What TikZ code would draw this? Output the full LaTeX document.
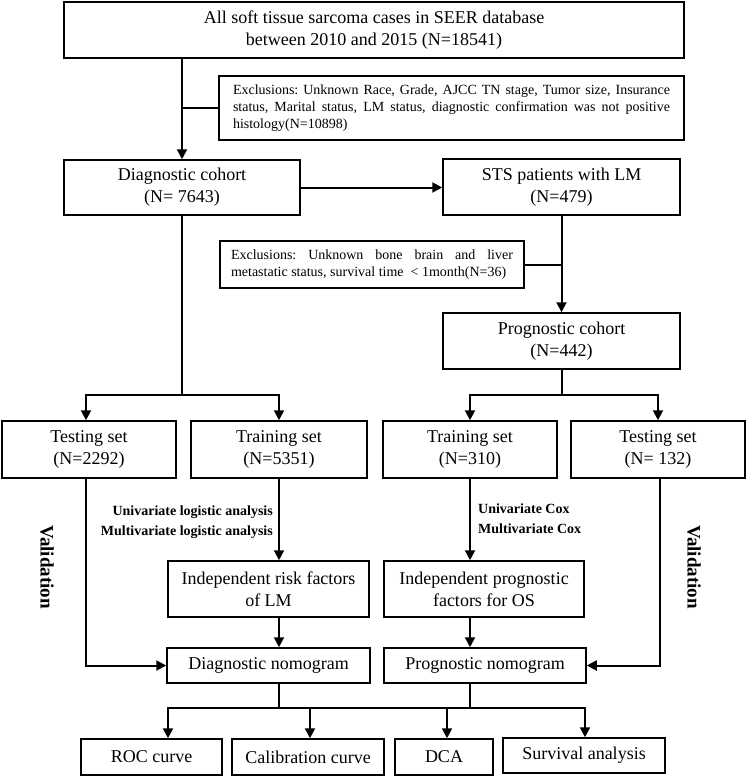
\documentclass[tikz,border=0pt]{standalone}
\usepackage{fontspec}
\setmainfont{Liberation Serif}
\usetikzlibrary{arrows.meta,calc}
\frenchspacing
\begin{document}
\begin{tikzpicture}[x=1pt,y=-1pt,
  box/.style={draw,line width=1.5pt,inner sep=0pt,align=center,font=\fontsize{18}{22}\selectfont},
  exbox/.style={draw,line width=1.5pt,inner sep=0pt,align=justify,font=\fontsize{14}{16.8}\selectfont},
  conn/.style={line width=2pt},
  arr/.style={conn,-{Triangle[length=10pt,width=10pt]}},
  lbl/.style={font=\fontsize{14}{20}\selectfont\bfseries,inner sep=0pt},
  val/.style={font=\fontsize{19}{22}\selectfont\bfseries,inner sep=0pt,rotate=-90}]
\useasboundingbox (0,0) rectangle (747,777);

% boxes
\node[box,minimum width=620pt,minimum height=56pt] (top) at (374,30) {All soft tissue sarcoma cases in SEER database\\between 2010 and 2015 (N=18541)};
\node[exbox,text width=437pt,minimum width=465pt,minimum height=64pt] (ex1) at (451.5,108) {Exclusions: Unknown Race, Grade, AJCC TN stage, Tumor size, Insurance\linebreak status, Marital status, LM status, diagnostic confirmation was not positive\linebreak histology(N=10898)};
\node[box,minimum width=236pt,minimum height=55pt] (diag) at (182,187.5) {Diagnostic cohort\\(N= 7643)};
\node[box,minimum width=237pt,minimum height=56pt] (sts) at (561.5,187) {STS patients with LM\\(N=479)};
\node[exbox,text width=282pt,minimum width=304pt,minimum height=47pt] (ex2) at (372,264.5) {Exclusions: Unknown bone brain and liver\linebreak metastatic status, survival time~ <~1month(N=36)};
\node[box,minimum width=237pt,minimum height=56pt] (prog) at (561.5,341) {Prognostic cohort\\(N=442)};

\node[box,minimum width=174pt,minimum height=57pt] (test1) at (89,449.5) {Testing set\\(N=2292)};
\node[box,minimum width=176pt,minimum height=57pt] (train1) at (279,449.5) {Training set\\(N=5351)};
\node[box,minimum width=174pt,minimum height=57pt] (train2) at (470,449.5) {Training set\\(N=310)};
\node[box,minimum width=174pt,minimum height=57pt] (test2) at (658,449.5) {Testing set\\(N= 132)};

\node[box,minimum width=201pt,minimum height=56pt] (indep1) at (268.5,589) {Independent risk factors\\of LM};
\node[box,minimum width=200pt,minimum height=56pt] (indep2) at (484,589) {Independent prognostic\\factors for OS};

\node[box,minimum width=203pt,minimum height=35pt] (dnomo) at (268.5,665.5) {Diagnostic nomogram};
\node[box,minimum width=202pt,minimum height=35pt] (pnomo) at (485,665.5) {Prognostic nomogram};

\node[box,minimum width=141pt,minimum height=36pt] (roc) at (151.5,757) {ROC curve};
\node[box,minimum width=152pt,minimum height=36pt] (cal) at (308,757) {Calibration curve};
\node[box,minimum width=98pt,minimum height=36pt] (dca) at (444,757) {DCA};
\node[box,minimum width=162pt,minimum height=35pt] (surv) at (584,755.5) {Survival analysis};

% labels
\node[lbl,anchor=base east] (u1) at (273,515) {Univariate logistic analysis};
\node[lbl,anchor=base east] (m1) at (273,535) {Multivariate logistic analysis};
\node[lbl,anchor=base west] (u2) at (478,513) {Univariate Cox};
\node[lbl,anchor=base west] (m2) at (478,533) {Multivariate Cox};
\node[val] (v1) at (47,567) {Validation};
\node[val] (v2) at (694,567) {Validation};

% connectors top
\draw[arr] (diag.north |- top.south) -- (diag.north);
\draw[conn] (diag.north |- ex1.west) -- (ex1.west);
\draw[arr] (diag.east) -- (sts.west |- diag.east);
\draw[arr] (sts.south) -- (prog.north);
\draw[conn] (ex2.east) -- (sts.south |- ex2.east);

% splits
\coordinate (dsplit) at (182,395);
\coordinate (t1top) at ([xshift=-3pt]test1.north);
\coordinate (t1bot) at ([xshift=-3pt]test1.south);
\coordinate (t2bot) at ([xshift=2pt]test2.south);
\draw[conn] (diag.south) -- (dsplit);
\draw[arr] (dsplit) -| (t1top);
\draw[arr] (dsplit) -| (train1.north);
\coordinate (psplit) at (prog.south |- dsplit);
\draw[conn] (prog.south) -- (psplit);
\draw[arr] (psplit) -| (train2.north);
\draw[arr] (psplit) -| (test2.north);

% analysis arrows
\draw[arr] (train1.south) -- (train1.south |- indep1.north);
\draw[arr] (train2.south) -- (train2.south |- indep2.north);
\draw[arr] (train1.south |- indep1.south) -- (train1.south |- dnomo.north);
\draw[arr] (train2.south |- indep2.south) -- (train2.south |- pnomo.north);

% validation
\draw[arr] (t1bot) |- (dnomo.west);
\draw[arr] (t2bot) |- (pnomo.east);

% bottom bus
\coordinate (b1) at (168,708);
\coordinate (b2) at (310,708);
\coordinate (b3) at (447,708);
\coordinate (b4) at (585,708);
\draw[conn] (train1.south |- dnomo.south) -- (train1.south |- b1);
\draw[conn] (train2.south |- pnomo.south) -- (train2.south |- b1);
\draw[arr] (b2) -| (b1 |- roc.north);
\draw[arr] (b3) -| (b4 |- surv.north);
\draw[conn] (b2) -- (b3);
\draw[arr] (b2) -- (b2 |- cal.north);
\draw[arr] (b3) -- (b3 |- dca.north);
\end{tikzpicture}
\end{document}
